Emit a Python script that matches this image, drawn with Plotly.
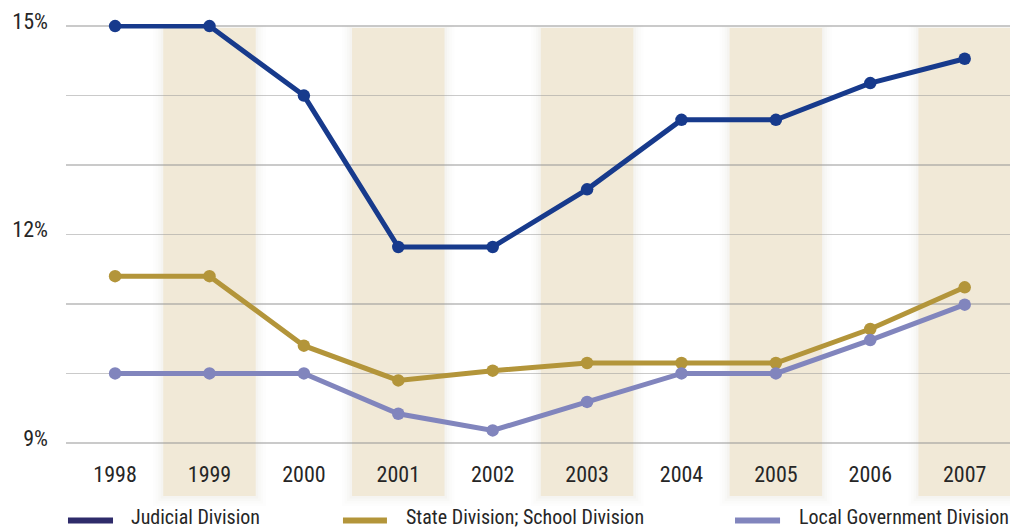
import plotly.graph_objects as go

years = [1998, 1999, 2000, 2001, 2002, 2003, 2004, 2005, 2006, 2007]
judicial = [15.0, 15.0, 14.0, 11.82, 11.82, 12.65, 13.65, 13.65, 14.18, 14.53]
state_school = [11.4, 11.4, 10.4, 9.9, 10.04, 10.15, 10.15, 10.15, 10.64, 11.24]
local_gov = [10.0, 10.0, 10.0, 9.42, 9.18, 9.59, 10.0, 10.0, 10.48, 10.99]
shaded_years = [1999, 2001, 2003, 2005, 2007]
y_ticks = [9, 10, 11, 12, 13, 14, 15]
y_ticktext = ["9%", "", "", "12%", "", "", "15%"]
series_names = ["Judicial Division", "State Division; School Division", "Local Government Division"]

FONT = "Roboto Condensed, Liberation Sans Narrow, sans-serif"
TXT = "#262626"
line_colors = ["#173a8c", "#b3953a", "#8185bd"]
legend_colors = ["#2e2b6a", "#b3953a", "#8185bd"]

fig = go.Figure()
for name, vals, col in zip(series_names, [judicial, state_school, local_gov], line_colors):
    fig.add_trace(go.Scatter(
        x=years, y=vals, name=name, mode="lines+markers",
        line=dict(color=col, width=5),
        marker=dict(color=col, size=12.5),
        cliponaxis=False, showlegend=False, hoverinfo="skip",
    ))

PLOT_H = 421.0
shapes = []
# shaded bands with a soft shadow
for yr in shaded_years:
    for k, op in [(4, 0.012), (3, 0.015), (2, 0.02), (1, 0.025)]:
        dx = k * 2.5 / 94.4
        dy = k * 2.5 / PLOT_H
        shapes.append(dict(type="rect", xref="x", yref="paper",
                           x0=yr - 0.49 - dx, x1=yr + 0.49 + dx,
                           y0=-0.1211 - dy, y1=0.9905 + dy * 0.3,
                           fillcolor="rgba(120,100,60,%s)" % op, line=dict(width=0), layer="below"))
    shapes.append(dict(type="rect", xref="x", yref="paper",
                       x0=yr - 0.49, x1=yr + 0.49, y0=-0.1211, y1=0.9905,
                       fillcolor="#f1e9d7", line=dict(width=0), layer="below"))

# custom legend below the chart
leg_line_y = -0.1795
leg_text_y = -0.1722
leg_line_x = [(0.0021, 0.0498), (0.2934, 0.3400), (0.7087, 0.7564)]
leg_text_x = [0.0668, 0.3581, 0.7744]
annotations = []
for (x0, x1), tx, name, col in zip(leg_line_x, leg_text_x, series_names, legend_colors):
    shapes.append(dict(type="line", xref="paper", yref="paper", x0=x0, x1=x1,
                       y0=leg_line_y, y1=leg_line_y, line=dict(color=col, width=6)))
    annotations.append(dict(xref="paper", yref="paper", x=tx, y=leg_text_y,
                            xanchor="left", yanchor="middle", showarrow=False,
                            text=name, font=dict(family=FONT, size=20, color=TXT)))

fig.update_layout(
    width=1014, height=529,
    margin=dict(l=66, r=4, t=24, b=84),
    paper_bgcolor="white", plot_bgcolor="rgba(0,0,0,0)",
    shapes=shapes, annotations=annotations, hovermode=False,
    font=dict(family=FONT, size=21, color=TXT),
    xaxis=dict(range=[1997.48, 2007.48], tickvals=years, ticktext=[str(y) for y in years],
               showgrid=False, zeroline=False, showline=False, ticks="",
               ticklabelstandoff=14, tickfont=dict(family=FONT, size=22, color=TXT)),
    yaxis=dict(range=[8.97, 15.03], tickvals=y_ticks, ticktext=y_ticktext,
               showgrid=True, gridcolor="rgba(150,150,150,0.5)", gridwidth=1.5,
               zeroline=False, showline=False, ticks="",
               ticklabelstandoff=17, ticklabelshift=-5, ticklabeloverflow="allow",
               tickfont=dict(family=FONT, size=22, color=TXT)),
)

fig.write_html(
    "out.html",
    config={"displayModeBar": False, "staticPlot": True},
    post_script="document.body.style.margin='0';document.body.style.padding='0';document.body.style.overflow='hidden';",
)
